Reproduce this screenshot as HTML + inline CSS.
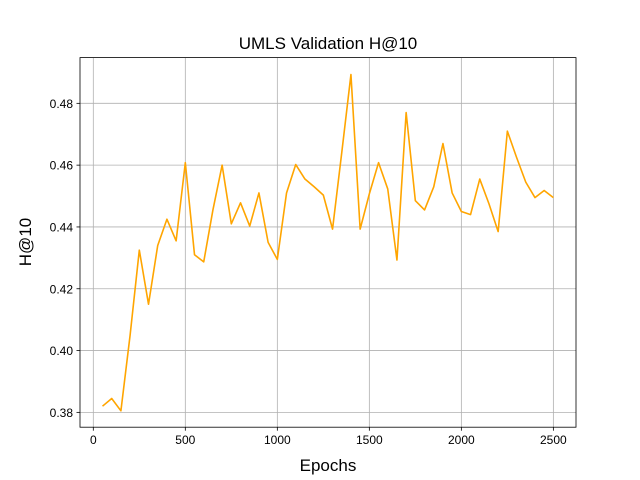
<!DOCTYPE html>
<html><head><meta charset="utf-8"><style>body{margin:0;background:#fff}svg{display:block;font-family:"Liberation Sans","DejaVu Sans",sans-serif}</style></head>
<body>
<svg id="chart" width="640" height="480">
<rect width="640" height="480" fill="#fff"/>
<g id="grid"></g><g id="ticks"></g>
<polyline id="line" fill="none" stroke="#ffa500" stroke-width="1.6" stroke-linejoin="round"/>
<rect x="80" y="57.6" width="496" height="369.6" fill="none" stroke="#000" stroke-width="0.8"/>
<text x="328" y="49" font-size="17" text-anchor="middle">UMLS Validation H@10</text>
<text x="328" y="471" font-size="17" text-anchor="middle">Epochs</text>
<text transform="translate(31,242) rotate(-90)" font-size="17" text-anchor="middle">H@10</text>
</svg>
<script>
const epochs=[];for(let e=50;e<=2500;e+=50)epochs.push(e);
const h10=[0.382,0.3845,0.3805,0.405,0.4325,0.415,0.434,0.4425,0.4355,0.4608,0.431,0.4287,0.4455,0.460,0.441,0.4478,0.4403,0.451,0.435,0.4295,0.451,0.4602,0.4555,0.453,0.4503,0.4393,0.464,0.4893,0.4393,0.4507,0.4608,0.4523,0.4293,0.477,0.4485,0.4455,0.453,0.467,0.451,0.445,0.444,0.4555,0.4475,0.4385,0.471,0.4625,0.4545,0.4495,0.4518,0.4495];
const xTicks=[0,500,1000,1500,2000,2500];
const yTicks=[0.38,0.40,0.42,0.44,0.46,0.48];
const X0=80,X1=576,Y0=427.2,Y1=57.6,xmin=-72.3,xmax=2623,ymin=0.3752,ymax=0.4948;
const sx=v=>X0+(v-xmin)/(xmax-xmin)*(X1-X0);
const sy=v=>Y0-(v-ymin)/(ymax-ymin)*(Y0-Y1);
const NS="http://www.w3.org/2000/svg";
const grid=document.getElementById('grid'),ticks=document.getElementById('ticks');
function mk(tag,attrs,parent){const el=document.createElementNS(NS,tag);for(const k in attrs)el.setAttribute(k,attrs[k]);parent.appendChild(el);return el;}
xTicks.forEach(t=>{const x=sx(t);
 const g=mk('line',{x1:x,x2:x,y1:Y1,y2:Y0,stroke:'#b0b0b0','stroke-width':0.8},grid);
 
 
 mk('line',{x1:x,x2:x,y1:Y0,y2:Y0+3.5,stroke:'#000','stroke-width':0.8},ticks);
 const tx=mk('text',{x:x,y:Y0+17,'font-size':12,'text-anchor':'middle'},ticks);tx.textContent=t;
 
 });
yTicks.forEach(t=>{const y=sy(t);
 const g=mk('line',{x1:X0,x2:X1,y1:y,y2:y,stroke:'#b0b0b0','stroke-width':0.8},grid);
 
 
 mk('line',{x1:X0-3.5,x2:X0,y1:y,y2:y,stroke:'#000','stroke-width':0.8},ticks);
 const tx=mk('text',{x:X0-7,y:y+4.5,'font-size':12,'text-anchor':'end'},ticks);tx.textContent=t.toFixed(2);
 
 });
document.getElementById('line').setAttribute('points',epochs.map((e,i)=>sx(e)+','+sy(h10[i])).join(' '));
</script>
</body></html>
